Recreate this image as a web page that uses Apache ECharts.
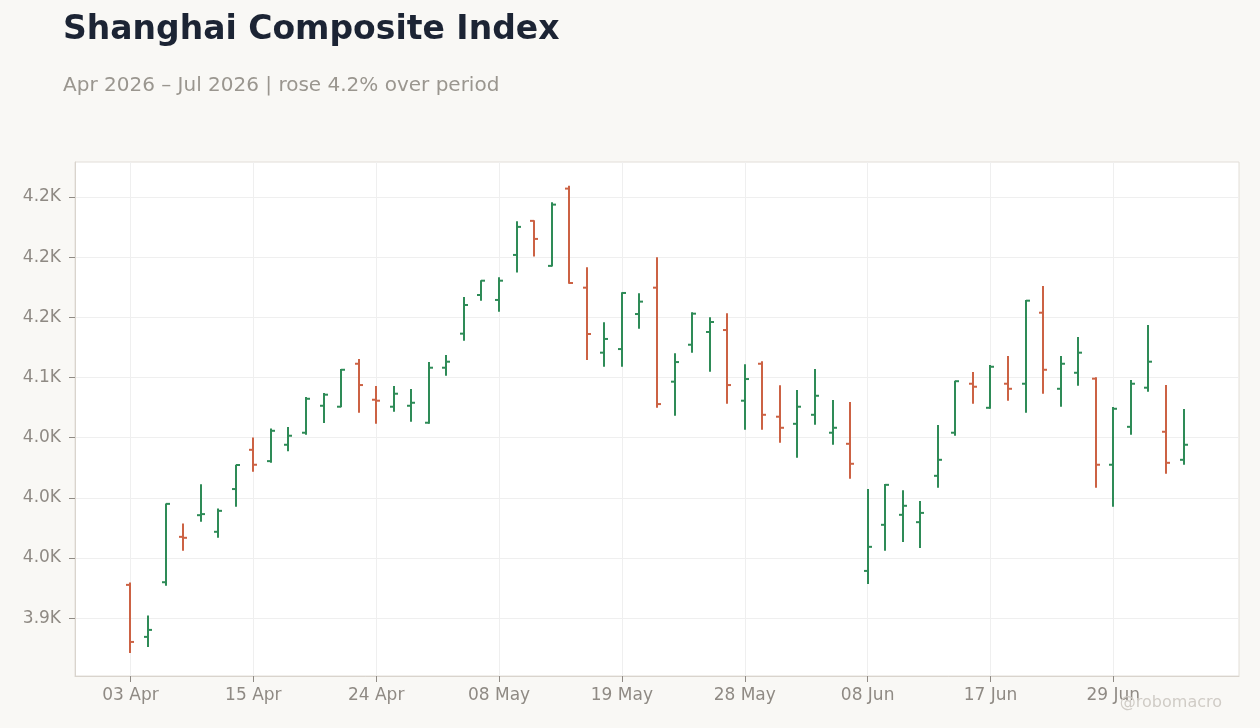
<!DOCTYPE html>
<html>
<head>
<meta charset="utf-8">
<script src="https://cdn.jsdelivr.net/npm/echarts@6/dist/echarts.min.js"></script>
<style>
  html, body { margin: 0; padding: 0; background: #f9f8f5; }
  #chart { width: 1260px; height: 728px; }
</style>
</head>
<body>
<div id="chart"></div>
<script>
const dates = [
  '03 Apr','07 Apr','08 Apr','09 Apr','10 Apr','13 Apr','14 Apr','15 Apr','16 Apr','17 Apr',
  '20 Apr','21 Apr','22 Apr','23 Apr','24 Apr','27 Apr','28 Apr','29 Apr','30 Apr','06 May',
  '07 May','08 May','11 May','12 May','13 May','14 May','15 May','18 May','19 May','20 May',
  '21 May','22 May','25 May','26 May','27 May','28 May','29 May','01 Jun','02 Jun','03 Jun',
  '04 Jun','05 Jun','08 Jun','09 Jun','10 Jun','11 Jun','12 Jun','15 Jun','16 Jun','17 Jun',
  '18 Jun','22 Jun','23 Jun','24 Jun','25 Jun','26 Jun','29 Jun','30 Jun','01 Jul','02 Jul',
  '03 Jul'
];
const openV = [
  3927.7,3884.5,3929.9,3967.6,3985.6,3971.8,4007.3,4039.9,4030.5,4044.1,
  4054.1,4076.5,4075.7,4111.4,4081.5,4075.7,4076.5,4062.4,4108.1,4136.4,
  4168.5,4164.4,4201.8,4230.1,4192.7,4256.9,4174.6,4120.6,4123.6,4152.7,
  4174.6,4096.5,4127.2,4137.8,4139.4,4080.7,4111.4,4067.4,4061.5,4069.0,
  4054.1,4044.9,3939.3,3977.6,3985.9,3979.8,4018.3,4054.1,4094.8,4074.8,
  4094.8,4094.8,4153.8,4090.6,4103.9,4099.0,4027.5,4059.0,4091.5,4054.9,
  4031.6
];
const highV = [
  3929.7,3902.2,3995.4,3978.7,4011.2,3991.2,4027.5,4050.2,4057.7,4058.8,
  4083.7,4087.1,4107.0,4115.3,4092.9,4092.9,4090.4,4112.8,4118.7,4166.9,
  4180.8,4183.3,4229.8,4230.6,4245.6,4259.2,4191.6,4145.8,4170.8,4170.0,
  4199.9,4120.1,4154.2,4150.0,4153.3,4110.9,4113.4,4093.5,4089.6,4107.0,
  4081.2,4079.6,4007.3,4011.4,4006.4,3997.3,4060.5,4097.3,4104.5,4110.3,
  4117.8,4164.4,4176.0,4117.8,4133.6,4100.1,4075.4,4097.9,4143.6,4093.7,
  4073.8
];
const lowV = [
  3871.2,3876.1,3926.9,3956.0,3980.1,3966.8,3992.5,4021.6,4029.1,4038.8,
  4052.4,4062.1,4075.2,4070.7,4061.5,4071.5,4063.2,4061.5,4101.4,4130.5,
  4163.8,4154.7,4187.1,4200.4,4192.1,4177.9,4114.5,4108.9,4108.9,4140.5,
  4074.8,4068.2,4120.6,4104.8,4078.2,4056.6,4056.6,4045.7,4033.3,4060.7,
  4044.1,4015.8,3928.5,3956.0,3963.4,3958.4,4008.3,4051.6,4078.2,4074.0,
  4080.7,4070.7,4086.5,4075.7,4093.1,4008.3,3992.5,4052.4,4088.1,4020.0,
  4027.5
];
const closeV = [
  3880.3,3890.3,3995.0,3966.8,3986.5,3989.2,4027.3,4027.5,4055.7,4051.6,
  4082.3,4085.7,4106.4,4093.7,4080.7,4086.5,4079.0,4108.1,4113.1,4160.2,
  4180.4,4180.4,4225.1,4215.1,4243.6,4178.5,4136.1,4132.0,4170.2,4163.0,
  4077.9,4112.8,4153.0,4146.1,4093.7,4098.7,4069.0,4058.2,4075.7,4084.8,
  4058.2,4028.3,3959.3,4010.8,3993.4,3987.5,4031.6,4096.9,4092.3,4108.9,
  4090.6,4163.8,4106.4,4111.4,4120.6,4027.5,4074.0,4094.8,4113.1,4029.1,
  4044.1
];
const xTickIdx = [0, 7, 14, 21, 28, 35, 42, 49, 56];
const yTicks = [3900, 3950, 4000, 4050, 4100, 4150, 4200, 4250];
const yTickLabels = ['3.9K', '4.0K', '4.0K', '4.0K', '4.1K', '4.2K', '4.2K', '4.2K'];

const UP = '#2e8b57';
const DOWN = '#cc6244';

const ohlcData = dates.map((d, i) => [i, openV[i], highV[i], lowV[i], closeV[i]]);

const chart = echarts.init(document.getElementById('chart'), null, { renderer: 'canvas' });
chart.setOption({
  backgroundColor: '#f9f8f5',
  animation: false,
  title: [
    {
      text: 'Shanghai Composite Index',
      left: 58, top: 9,
      textStyle: { fontFamily: 'DejaVu Sans', fontWeight: 'bold', fontSize: 33, color: '#1c2434' }
    },
    {
      text: 'Apr 2026 \u2013 Jul 2026 | rose 4.2% over period',
      left: 58, top: 71,
      textStyle: { fontFamily: 'DejaVu Sans', fontWeight: 'normal', fontSize: 20, color: '#9a968f' }
    }
  ],
  graphic: [
    {
      type: 'text', right: 38, top: 695, z: 100,
      style: { text: '@robomacro', fill: '#d0ccc6', font: '16px "DejaVu Sans"' }
    }
  ],
  grid: {
    left: 75, right: 21, top: 162, bottom: 52,
    show: true, backgroundColor: '#ffffff', borderColor: '#e2ded8', borderWidth: 1
  },
  xAxis: {
    type: 'value',
    min: -3.16, max: 63.16,
    axisLine: { show: true, onZero: false, lineStyle: { color: '#d9d4cd', width: 1 } },
    axisTick: { show: true, length: 6, lineStyle: { color: '#8f8a84' }, customValues: xTickIdx },
    axisLabel: {
      customValues: xTickIdx,
      formatter: v => dates[Math.round(v)],
      fontFamily: 'DejaVu Sans', fontSize: 17, color: '#8f8a84', margin: 11
    },
    splitLine: { show: true, lineStyle: { color: '#efefef', width: 1 } }
  },
  yAxis: {
    type: 'value',
    min: 3852, max: 4279,
    axisLine: { show: true, onZero: false, lineStyle: { color: '#d9d4cd', width: 1 } },
    axisTick: { show: true, length: 6, lineStyle: { color: '#8f8a84' }, customValues: yTicks },
    axisLabel: {
      customValues: yTicks,
      formatter: v => { const k = yTicks.indexOf(v); return k >= 0 ? yTickLabels[k] : ''; },
      fontFamily: 'DejaVu Sans', fontSize: 17, color: '#8f8a84', margin: 14
    },
    splitLine: { show: true, lineStyle: { color: '#efefef', width: 1 } }
  },
  series: [{
    type: 'custom',
    data: ohlcData,
    encode: { x: 0, y: [1, 2, 3, 4] },
    renderItem: (params, api) => {
      const i = api.value(0);
      const o = api.value(1), h = api.value(2), l = api.value(3), c = api.value(4);
      const po = api.coord([i, o]);
      const ph = api.coord([i, h]);
      const pl = api.coord([i, l]);
      const pc = api.coord([i, c]);
      const x = Math.round(po[0]);
      const color = c >= o ? UP : DOWN;
      const st = { stroke: color, lineWidth: 2 };
      return {
        type: 'group',
        children: [
          { type: 'line', shape: { x1: x, y1: ph[1], x2: x, y2: pl[1] }, style: st },
          { type: 'line', shape: { x1: x - 4, y1: po[1], x2: x, y2: po[1] }, style: st },
          { type: 'line', shape: { x1: x, y1: pc[1], x2: x + 4, y2: pc[1] }, style: st }
        ]
      };
    }
  }]
});
</script>
</body>
</html>
